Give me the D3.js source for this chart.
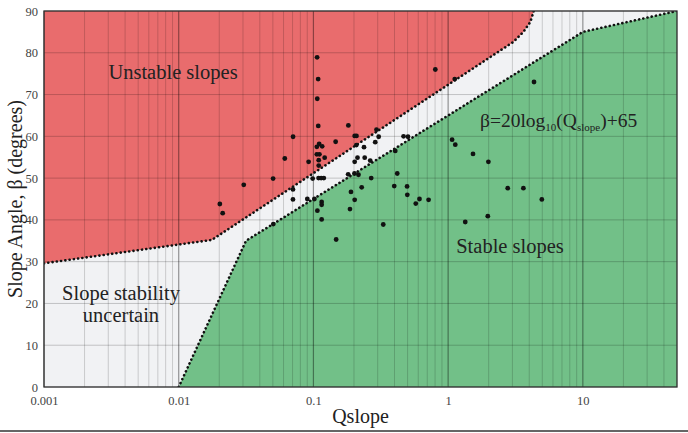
<!DOCTYPE html>
<html>
<head>
<meta charset="utf-8">
<script src="https://cdn.jsdelivr.net/npm/d3@7"></script>
<style>
  body { margin: 0; background: #fff; }
  text { font-family: "Liberation Serif", "DejaVu Serif", serif; }
</style>
</head>
<body>
<div id="chart"></div>
<script>
// tick values and labels
var qTicks = [0.001, 0.01, 0.1, 1, 10];
var qTickLabels = ["0.001", "0.01", "0.1", "1", "10"];
var betaTicks = [0, 10, 20, 30, 40, 50, 60, 70, 80, 90];

// case studies: Qslope and slope angle
var qslope = [0.0202, 0.0212, 0.0304, 0.0502, 0.0504, 0.0613, 0.0706, 0.0705, 0.0705, 0.0921,
  0.0901, 0.1065, 0.1084, 0.1068, 0.1086, 0.1103, 0.106, 0.1161, 0.106, 0.1108,
  0.1212, 0.1095, 0.1095, 0.0987, 0.1092, 0.1141, 0.1195, 0.1017, 0.1151, 0.1151,
  0.107, 0.1151, 0.1475, 0.1462, 0.1817, 0.2024, 0.2088, 0.2083, 0.2374, 0.2876,
  0.3051, 0.294, 0.2024, 0.2124, 0.2403, 0.264, 0.1811, 0.2017, 0.2161, 0.2685,
  0.2282, 0.19, 0.2024, 0.1868, 0.33, 0.405, 0.419, 0.398, 0.4668, 0.5034,
  0.4957, 0.4977, 0.6129, 0.5752, 0.7161, 0.8034, 1.12, 4.34, 1.07, 1.13,
  1.53, 1.99, 2.77, 3.62, 4.96, 1.97, 1.34];
var beta = [43.8, 41.6, 48.4, 49.9, 39.0, 54.7, 59.9, 47.3, 44.9, 53.9,
  45.0, 78.9, 73.7, 69.0, 62.5, 58.2, 57.5, 57.6, 55.7, 55.7,
  54.9, 54.3, 53.0, 49.9, 50.0, 50.0, 50.0, 45.0, 44.3, 43.6,
  42.2, 40.1, 35.3, 58.7, 62.6, 60.1, 60.1, 57.9, 57.4, 58.6,
  59.9, 61.6, 53.9, 54.9, 54.9, 54.2, 50.9, 51.1, 50.8, 50.0,
  47.8, 46.7, 44.8, 42.6, 38.9, 56.5, 51.1, 48.1, 60.0, 59.9,
  48.0, 46.0, 45.0, 43.9, 44.8, 76.0, 73.7, 73.0, 59.2, 58.0,
  55.8, 53.9, 47.6, 47.6, 44.9, 40.9, 39.5];

// region boundaries [Qslope, beta]
var unstableEdge = [[0.001, 29.6], [0.0176, 35.2], [3.05, 82.6], [3.62, 85.0], [4.08, 87.4], [4.32, 90]];
var stableEdge = [[0.01, 0], [0.0316, 35], [10, 85], [50, 90]];

var width = 688, height = 433;
var margin = { top: 11, right: 11, bottom: 46, left: 44 };

var svg = d3.select("#chart")
  .append("svg")
  .attr("width", width)
  .attr("height", height);

var x = d3.scaleLog().domain([0.001, 50]).range([margin.left, width - margin.right]);
var y = d3.scaleLinear().domain([0, 90]).range([height - margin.bottom, margin.top]);

var pw = x.range()[1] - x.range()[0];
var ph = y.range()[0] - y.range()[1];

svg.append("clipPath").attr("id", "plot")
  .append("rect")
  .attr("x", margin.left).attr("y", margin.top)
  .attr("width", pw).attr("height", ph);

// background (uncertain zone)
svg.append("rect")
  .attr("x", margin.left).attr("y", margin.top)
  .attr("width", pw).attr("height", ph)
  .style("fill", "#f1f2f4");

var line = d3.line().x((d) => x(d[0])).y((d) => y(d[1]));

var regions = svg.append("g").attr("clip-path", "url(#plot)");

// unstable zone: above the upper boundary
regions.append("path")
  .attr("d", line(unstableEdge.concat([[0.001, 90]])) + "Z")
  .style("fill", "#e96c6d");

// stable zone: below the lower boundary
regions.append("path")
  .attr("d", line(stableEdge.concat([[50, 0]])) + "Z")
  .style("fill", "#72c088");

// grid lines on top of the colours
var minor = [];
qTicks.forEach(function (d) {
  for (var k = 2; k <= 9; k++) {
    if (d * k <= 50) minor.push(d * k);
  }
});

var grid = svg.append("g");
grid.selectAll("line.minor")
  .data(minor)
  .enter()
  .append("line")
  .attr("x1", (d) => x(d)).attr("x2", (d) => x(d))
  .attr("y1", y(0)).attr("y2", y(90))
  .style("stroke", "#000")
  .style("stroke-opacity", 0.17)
  .style("stroke-width", 1);

grid.selectAll("line.major")
  .data(qTicks)
  .enter()
  .append("line")
  .attr("x1", (d) => x(d)).attr("x2", (d) => x(d))
  .attr("y1", y(0)).attr("y2", y(90))
  .style("stroke", "#000")
  .style("stroke-opacity", 0.4)
  .style("stroke-width", 1.2);

grid.selectAll("line.h")
  .data(betaTicks)
  .enter()
  .append("line")
  .attr("x1", x(0.001)).attr("x2", x(50))
  .attr("y1", (d) => y(d)).attr("y2", (d) => y(d))
  .style("stroke", "#000")
  .style("stroke-opacity", 0.2)
  .style("stroke-width", 1);

// dotted boundaries
[unstableEdge, stableEdge].forEach(function (edge) {
  svg.append("path")
    .attr("d", line(edge))
    .attr("clip-path", "url(#plot)")
    .style("fill", "none")
    .style("stroke", "#111")
    .style("stroke-width", 2.6)
    .style("stroke-linecap", "round")
    .style("stroke-dasharray", "0.1 4.2");
});

// points
svg.append("g")
  .selectAll("circle")
  .data(qslope)
  .enter()
  .append("circle")
  .attr("cx", (d) => x(d))
  .attr("cy", (d, i) => y(beta[i]))
  .attr("r", 2.4)
  .style("fill", "#111");

// frame
svg.append("rect")
  .attr("x", margin.left).attr("y", margin.top)
  .attr("width", pw).attr("height", ph)
  .style("fill", "none")
  .style("stroke", "#333")
  .style("stroke-width", 1.3);

// axes
var xAxis = d3.axisBottom(x).tickValues(qTicks).tickFormat((d, i) => qTickLabels[i]).tickSize(0).tickPadding(9);
var yAxis = d3.axisLeft(y).tickValues(betaTicks).tickSize(0).tickPadding(6);

var gx = svg.append("g").attr("transform", "translate(0," + y(0) + ")").call(xAxis);
var gy = svg.append("g").attr("transform", "translate(" + margin.left + ",0)").call(yAxis);
[gx, gy].forEach(function (g) {
  g.select(".domain").remove();
  g.selectAll("text")
    .style("font-family", "'Liberation Serif', serif")
    .style("font-size", "12.5px")
    .style("fill", "#444");
});

// axis titles
svg.append("text")
  .attr("x", (x.range()[0] + x.range()[1]) / 2)
  .attr("y", 423)
  .attr("text-anchor", "middle")
  .style("font-size", "20px")
  .style("fill", "#222")
  .text("Qslope");

svg.append("text")
  .attr("transform", "translate(22," + (y(45)) + ") rotate(-90)")
  .attr("text-anchor", "middle")
  .style("font-size", "20px")
  .style("fill", "#222")
  .text("Slope Angle, β (degrees)");

// zone labels
var labels = svg.append("g").style("font-size", "20.5px").style("fill", "#222").attr("text-anchor", "middle");
labels.append("text").attr("x", 173).attr("y", 79).text("Unstable slopes");
labels.append("text").attr("x", 121).attr("y", 300).text("Slope stability");
labels.append("text").attr("x", 121).attr("y", 322).text("uncertain");
labels.append("text").attr("x", 510).attr("y", 253).text("Stable slopes");

var eq = svg.append("text")
  .attr("x", 480).attr("y", 127)
  .style("font-size", "19.5px")
  .style("fill", "#222");
eq.append("tspan").text("β=20log");
eq.append("tspan").attr("dy", 4).style("font-size", "11px").text("10");
eq.append("tspan").attr("dy", -4).text("(Q");
eq.append("tspan").attr("dy", 4).style("font-size", "11px").text("slope");
eq.append("tspan").attr("dy", -4).text(")+65");

// rule at the bottom of the figure
svg.append("line")
  .attr("x1", 0).attr("x2", width)
  .attr("y1", 431).attr("y2", 431)
  .style("stroke", "#333")
  .style("stroke-width", 1.5);
</script>
</body>
</html>
